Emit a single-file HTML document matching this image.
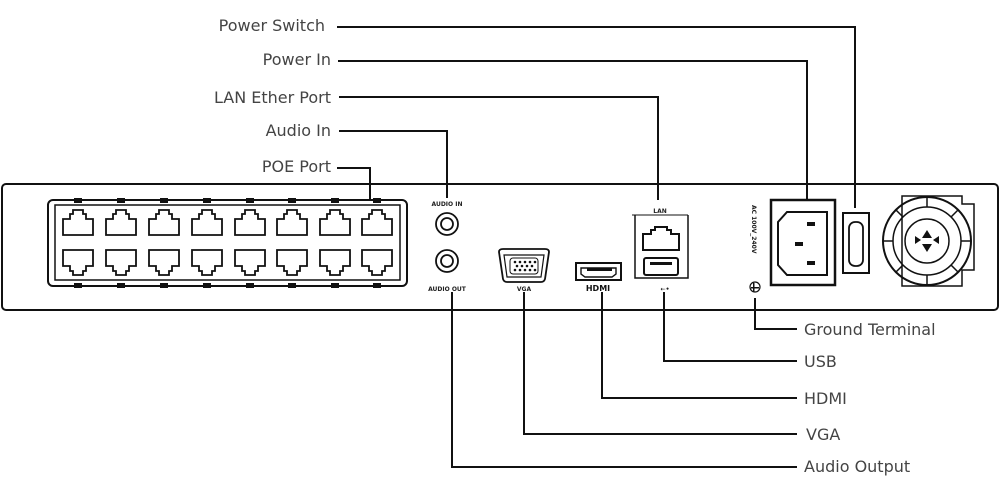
<!DOCTYPE html>
<html><head><meta charset="utf-8"><style>
body{margin:0;background:#fff;}
svg{display:block;}
text{font-family:"DejaVu Sans","Liberation Sans",sans-serif;}
.l{font-size:16px;fill:#444;}
.s{font-size:6px;font-weight:bold;fill:#222;}
</style></head><body>
<svg width="1000" height="479" viewBox="0 0 1000 479" xmlns="http://www.w3.org/2000/svg">
<g fill="none" stroke="#111" stroke-width="2">
<polyline points="337,27 855,27 855,208"/>
<polyline points="338,61 807,61 807,200"/>
<polyline points="339,97 658,97 658,200"/>
<polyline points="339,131 447,131 447,198"/>
<polyline points="337,168 370,168 370,200"/>
<polyline points="755,298 755,329 797,329"/>
<polyline points="664,292 664,361 797,361"/>
<polyline points="602,292 602,398 797,398"/>
<polyline points="524,292 524,434 797,434"/>
<polyline points="452,292 452,467 797,467"/>
<rect x="2" y="184" width="996" height="126" rx="4"/>
<rect x="48" y="200" width="359" height="86" rx="5"/>
<rect x="55" y="205" width="345" height="75" stroke-width="1.5"/>
</g>
<g fill="none" stroke="#111" stroke-width="1.8">
<path id="pt" d="M0,0 h-15 v-16 h7 v-5 h3 v-4 h10 v4 h3 v5 h7 v16 z" transform="translate(78,235)"/>
<use href="#pt" x="43"/><use href="#pt" x="86"/><use href="#pt" x="129"/><use href="#pt" x="172"/><use href="#pt" x="214"/><use href="#pt" x="257"/><use href="#pt" x="299"/>
<path id="pb" d="M0,0 h-15 v16 h7 v5 h3 v4 h10 v-4 h3 v-5 h7 v-16 z" transform="translate(78,250)"/>
<use href="#pb" x="43"/><use href="#pb" x="86"/><use href="#pb" x="129"/><use href="#pb" x="172"/><use href="#pb" x="214"/><use href="#pb" x="257"/><use href="#pb" x="299"/>
</g>
<g fill="#111">
<rect x="74" y="198" width="8" height="5"/><rect x="117" y="198" width="8" height="5"/><rect x="160" y="198" width="8" height="5"/><rect x="203" y="198" width="8" height="5"/><rect x="246" y="198" width="8" height="5"/><rect x="288" y="198" width="8" height="5"/><rect x="331" y="198" width="8" height="5"/><rect x="373" y="198" width="8" height="5"/>
<rect x="74" y="283" width="8" height="5"/><rect x="117" y="283" width="8" height="5"/><rect x="160" y="283" width="8" height="5"/><rect x="203" y="283" width="8" height="5"/><rect x="246" y="283" width="8" height="5"/><rect x="288" y="283" width="8" height="5"/><rect x="331" y="283" width="8" height="5"/><rect x="373" y="283" width="8" height="5"/>
</g>
<g fill="none" stroke="#111" stroke-width="1.8">
<circle cx="447" cy="224" r="11"/><circle cx="447" cy="224" r="6"/>
<circle cx="447" cy="261" r="11"/><circle cx="447" cy="261" r="6"/>
<path d="M499,252 q0,-3 4,-3 h42 q4,0 4,3 l-4,27 q-1,3 -4,3 h-34 q-3,0 -4,-3 z"/>
<path d="M504,255 h40 l-3,22 h-34 z" stroke-width="1.2"/>
<rect x="576" y="263" width="45" height="17" stroke-width="2"/>
<path d="M581,268 h35 v6 l-4,3 h-27 l-4,-3 z" stroke-width="1.4"/>
<polyline points="635,215 635,278 688,278 688,215" stroke-width="1.5"/>
<polyline points="632,215 688,215" stroke-width="1"/>
<path d="M643,250 v-16 h8 v-4 h4 v-3 h12 v3 h4 v4 h8 v16 z" stroke-width="2"/>
<rect x="644" y="258" width="34" height="17" rx="2" stroke-width="2"/>
<rect x="771" y="200" width="64" height="85" stroke-width="2.5"/>
<path d="M787,212 h40 v63 h-40 l-9,-10 v-43 z" stroke-width="2"/>
<rect x="843" y="213" width="26" height="60" stroke-width="2"/>
<rect x="849" y="222" width="14" height="44" rx="6"/>
<path d="M902,196 h60 v8 h12 v66 h-12 v16 h-60 z" stroke-width="1.5"/>
<circle cx="927" cy="241" r="44" stroke-width="2"/>
<circle cx="927" cy="241" r="34" stroke-width="1.5"/>
<circle cx="927" cy="241" r="22" stroke-width="1.5"/>
<path d="M927,197 v10 M927,275 v10 M883,241 h10 M961,241 h10 M896,210 l7,7 M958,210 l-7,7 M896,272 l7,-7 M958,272 l-7,-7" stroke-width="1.5"/>
<circle cx="755" cy="287" r="5" stroke-width="1.2"/>
</g>
<g fill="#111">
<rect x="510" y="258" width="28" height="16" rx="3" fill="#fff" stroke="#111"/>
<rect x="587" y="268" width="25" height="3"/>
<rect x="650" y="262" width="22" height="3"/>
<rect x="807" y="222" width="8" height="4"/><rect x="795" y="242" width="8" height="4"/><rect x="807" y="261" width="8" height="4"/>
<path d="M927,230 l-5,8 h10 z M927,252 l-5,-8 h10 z M915,236 l6,4 -6,4 z M939,236 l-6,4 6,4 z"/>
<rect x="753" y="283" width="1.5" height="9"/><rect x="751" y="287" width="8" height="1.5"/>
</g>
<g fill="#111">
<circle cx="515" cy="262" r="1.3"/><circle cx="520" cy="262" r="1.3"/><circle cx="525" cy="262" r="1.3"/><circle cx="530" cy="262" r="1.3"/><circle cx="535" cy="262" r="1.3"/>
<circle cx="517" cy="266" r="1.3"/><circle cx="522" cy="266" r="1.3"/><circle cx="527" cy="266" r="1.3"/><circle cx="532" cy="266" r="1.3"/>
<circle cx="515" cy="270" r="1.3"/><circle cx="520" cy="270" r="1.3"/><circle cx="525" cy="270" r="1.3"/><circle cx="530" cy="270" r="1.3"/><circle cx="535" cy="270" r="1.3"/>
</g>
<text class="s" x="447" y="206" text-anchor="middle">AUDIO IN</text>
<text class="s" x="447" y="291" text-anchor="middle">AUDIO OUT</text>
<text class="s" x="524" y="291" text-anchor="middle">VGA</text>
<text x="598" y="291" text-anchor="middle" style="font-size:8px;font-weight:bold;fill:#111">HDMI</text>
<text class="s" x="660" y="213" text-anchor="middle">LAN</text>
<text class="s" x="665" y="291" text-anchor="middle">⇠•</text>
<text class="s" transform="translate(752,205) rotate(90)">AC 100V_240V</text>
<text class="l" x="325" y="31" text-anchor="end">Power Switch</text>
<text class="l" x="331" y="65" text-anchor="end">Power In</text>
<text class="l" x="331" y="103" text-anchor="end">LAN Ether Port</text>
<text class="l" x="331" y="136" text-anchor="end">Audio In</text>
<text class="l" x="331" y="172" text-anchor="end">POE Port</text>
<text class="l" x="804" y="335">Ground Terminal</text>
<text class="l" x="804" y="367">USB</text>
<text class="l" x="804" y="404">HDMI</text>
<text class="l" x="806" y="440">VGA</text>
<text class="l" x="804" y="472">Audio Output</text>
</svg>
</body></html>
